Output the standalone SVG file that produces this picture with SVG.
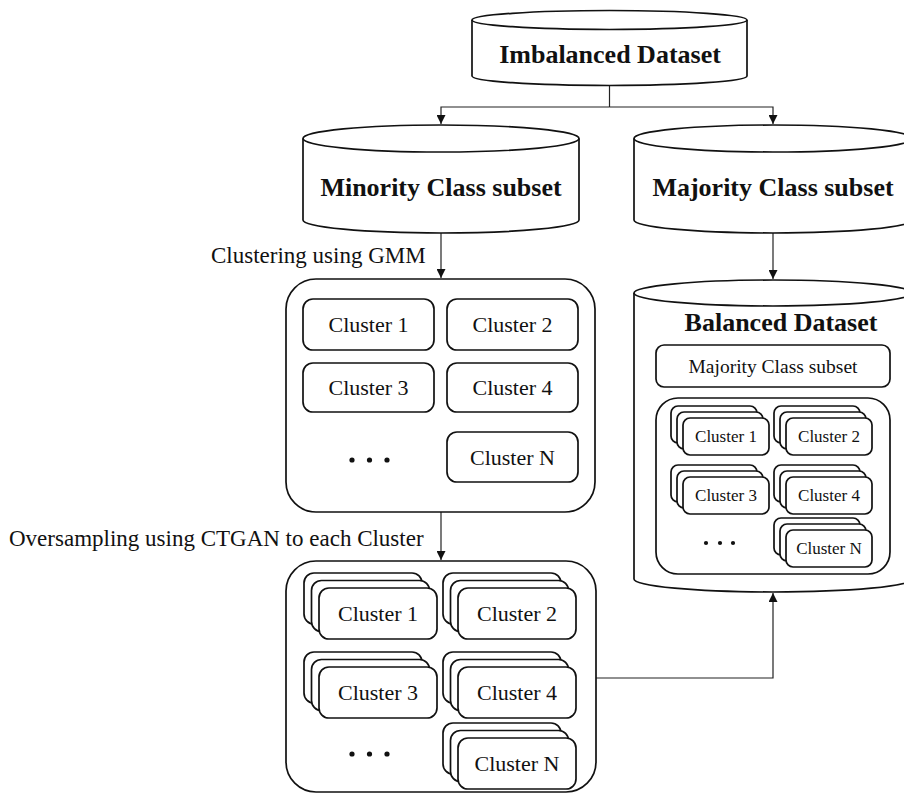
<svg xmlns="http://www.w3.org/2000/svg" width="904" height="794" viewBox="0 0 904 794">
<style>
.s{fill:#fff;stroke:#111;stroke-width:1.7}
.c{fill:none;stroke:#222;stroke-width:1.2}
.tb{font-family:"Liberation Serif","Times New Roman",serif;font-weight:bold;font-size:26px;fill:#111;text-anchor:middle}
.t{font-family:"Liberation Serif","Times New Roman",serif;font-size:22px;fill:#111;text-anchor:middle}
.ts{font-family:"Liberation Serif","Times New Roman",serif;font-size:17px;fill:#111;text-anchor:middle}
.tl{font-family:"Liberation Serif","Times New Roman",serif;font-size:23px;fill:#111}
.d{fill:#111}
</style>
<defs>
<marker id="ah" viewBox="0 0 10 10" refX="10" refY="5" markerWidth="9" markerHeight="9" markerUnits="userSpaceOnUse" orient="auto">
<path d="M0,0 L10,5 L0,10 Z" fill="#111"/>
</marker>
<g id="stackL">
<rect class="s" x="-15" y="-15" width="118" height="51" rx="10"/>
<rect class="s" x="-7.5" y="-7.5" width="118" height="51" rx="10"/>
<rect class="s" x="0" y="0" width="118" height="51" rx="10"/>
</g>
<g id="stackS">
<rect class="s" x="-12" y="-12" width="86" height="37" rx="7"/>
<rect class="s" x="-6" y="-6" width="86" height="37" rx="7"/>
<rect class="s" x="0" y="0" width="86" height="37" rx="7"/>
</g>
</defs>

<g id="connectors">
<path class="c" d="M609.5,85.5 V107"/>
<path class="c" d="M609.5,107 H441 V124" marker-end="url(#ah)"/>
<path class="c" d="M609.5,107 H773 V124" marker-end="url(#ah)"/>
<path class="c" d="M441,233 V278" marker-end="url(#ah)"/>
<path class="c" d="M773,233 V279" marker-end="url(#ah)"/>
<path class="c" d="M441,512 V560" marker-end="url(#ah)"/>
<path class="c" d="M596,678 H773 V593" marker-end="url(#ah)"/>
</g>

<g id="imbalanced">
<path class="s" d="M472,20 V76 A137.5,9.5 0 0 0 747,76 V20"/>
<ellipse class="s" cx="609.5" cy="20" rx="137.5" ry="9.5"/>
<text class="tb" x="610" y="63">Imbalanced Dataset</text>
</g>

<g id="minority">
<path class="s" d="M303,138.5 V220 A138,13 0 0 0 579,220 V138.5"/>
<ellipse class="s" cx="441" cy="138.5" rx="138" ry="13.5"/>
<text class="tb" x="441" y="196">Minority Class subset</text>
</g>

<g id="majority">
<path class="s" d="M634,138.5 V220 A139,13 0 0 0 912,220 V138.5"/>
<ellipse class="s" cx="773" cy="138.5" rx="139" ry="13.5"/>
<text class="tb" x="773" y="196">Majority Class subset</text>
</g>

<g id="label-gmm">
<text class="tl" x="211" y="263">Clustering using GMM</text>
</g>

<g id="clusters">
<rect class="s" x="286" y="279" width="309" height="233" rx="30"/>
<rect class="s" x="303" y="299" width="131" height="51" rx="10"/>
<text class="t" x="368.5" y="332">Cluster 1</text>
<rect class="s" x="447" y="299" width="131" height="51" rx="10"/>
<text class="t" x="512.5" y="332">Cluster 2</text>
<rect class="s" x="303" y="363" width="131" height="49" rx="10"/>
<text class="t" x="368.5" y="395">Cluster 3</text>
<rect class="s" x="447" y="363" width="131" height="49" rx="10"/>
<text class="t" x="512.5" y="395">Cluster 4</text>
<rect class="s" x="447" y="432" width="131" height="50" rx="10"/>
<text class="t" x="512.5" y="465">Cluster N</text>
<circle class="d" cx="352" cy="460" r="2.6"/>
<circle class="d" cx="369.5" cy="460" r="2.6"/>
<circle class="d" cx="387" cy="460" r="2.6"/>
</g>

<g id="label-ctgan">
<text class="tl" x="9" y="546">Oversampling using CTGAN to each Cluster</text>
</g>

<g id="oversampled">
<rect class="s" x="286" y="561" width="310" height="231" rx="30"/>
<use href="#stackL" x="319" y="588"/>
<text class="t" x="378" y="621">Cluster 1</text>
<use href="#stackL" x="458" y="588"/>
<text class="t" x="517" y="621">Cluster 2</text>
<use href="#stackL" x="319" y="667"/>
<text class="t" x="378" y="700">Cluster 3</text>
<use href="#stackL" x="458" y="667"/>
<text class="t" x="517" y="700">Cluster 4</text>
<use href="#stackL" x="458" y="738"/>
<text class="t" x="517" y="771">Cluster N</text>
<circle class="d" cx="352" cy="754" r="2.6"/>
<circle class="d" cx="369.5" cy="754" r="2.6"/>
<circle class="d" cx="387" cy="754" r="2.6"/>
</g>

<g id="balanced">
<path class="s" d="M634,293 V579 A139,13 0 0 0 912,579 V293"/>
<ellipse class="s" cx="773" cy="293" rx="139" ry="13"/>
<text class="tb" x="781" y="331">Balanced Dataset</text>
<rect class="s" x="656" y="345" width="234" height="42" rx="8"/>
<text class="ts" x="773" y="373" style="font-size:19.5px">Majority Class subset</text>
<rect class="s" x="656" y="398" width="234" height="176" rx="22"/>
<use href="#stackS" x="683" y="418"/>
<text class="ts" x="726" y="442">Cluster 1</text>
<use href="#stackS" x="786" y="418"/>
<text class="ts" x="829" y="442">Cluster 2</text>
<use href="#stackS" x="683" y="477"/>
<text class="ts" x="726" y="501">Cluster 3</text>
<use href="#stackS" x="786" y="477"/>
<text class="ts" x="829" y="501">Cluster 4</text>
<use href="#stackS" x="786" y="530"/>
<text class="ts" x="829" y="554">Cluster N</text>
<circle class="d" cx="706" cy="543" r="2.1"/>
<circle class="d" cx="720" cy="543" r="2.1"/>
<circle class="d" cx="733" cy="543" r="2.1"/>
</g>
</svg>
